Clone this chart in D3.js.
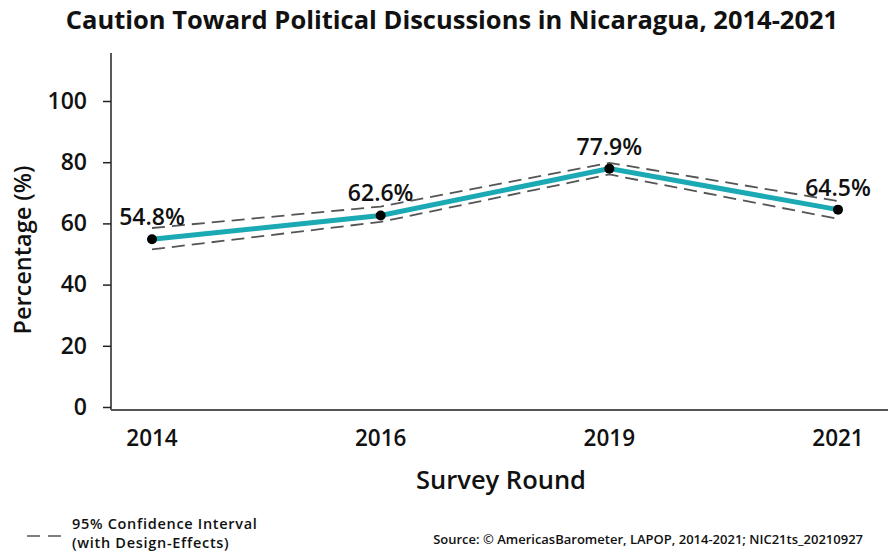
<!DOCTYPE html>
<html>
<head>
<meta charset="utf-8">
<script src="https://cdn.jsdelivr.net/npm/d3@7"></script>
<style>
  body { margin: 0; background: #fff; }
  svg { font-family: "Open Sans", "Noto Sans", sans-serif; }
</style>
</head>
<body>
<svg id="chart" width="888" height="556"></svg>
<script>
// survey rounds and estimates
const rounds = ['2014', '2016', '2019', '2021'];
const values = [54.8, 62.6, 77.9, 64.5];
const ciLower = [51.5, 60.5, 76.0, 61.5];
const ciUpper = [58.5, 65.5, 79.8, 67.3];
const yTicks = [0, 20, 40, 60, 80, 100];

const svg = d3.select('#chart');

const x = d3.scalePoint()
  .domain(rounds)
  .range([152, 838]);

const y = d3.scaleLinear()
  .domain([0, 100])
  .range([407, 101]);

// title
svg.append('text')
  .attr('x', 452)
  .attr('y', 29)
  .attr('text-anchor', 'middle')
  .attr('font-size', 25.5)
  .attr('font-weight', 700)
  .attr('fill', '#111')
  .text('Caution Toward Political Discussions in Nicaragua, 2014-2021');

// y axis
const yAxis = svg.append('g')
  .attr('transform', 'translate(111,0)')
  .call(d3.axisLeft(y).tickValues(yTicks).tickSize(8).tickPadding(16));
yAxis.select('.domain').remove();
yAxis.selectAll('.tick line').attr('stroke', '#222').attr('stroke-width', 1.5);
yAxis.selectAll('.tick text')
  .attr('font-size', 23)
  .attr('font-weight', 600)
  .attr('fill', '#111')
  .attr('font-family', '"Open Sans", sans-serif');

svg.append('line')
  .attr('x1', 111).attr('x2', 111)
  .attr('y1', 53).attr('y2', 410)
  .attr('stroke', '#222').attr('stroke-width', 1.5);

// x axis
svg.append('line')
  .attr('x1', 111).attr('x2', 888)
  .attr('y1', 410).attr('y2', 410)
  .attr('stroke', '#555').attr('stroke-width', 2);

svg.append('g')
  .selectAll('text')
  .data(rounds)
  .enter()
  .append('text')
  .attr('x', d => x(d))
  .attr('y', 446)
  .attr('text-anchor', 'middle')
  .attr('font-size', 22.5)
  .attr('font-weight', 600)
  .attr('fill', '#111')
  .text(d => d);

svg.append('text')
  .attr('x', 501)
  .attr('y', 489)
  .attr('text-anchor', 'middle')
  .attr('font-size', 25.5)
  .attr('font-weight', 600)
  .attr('fill', '#111')
  .text('Survey Round');

svg.append('text')
  .attr('transform', 'translate(31,250) rotate(-90)')
  .attr('text-anchor', 'middle')
  .attr('font-size', 23.5)
  .attr('font-weight', 600)
  .attr('fill', '#111')
  .text('Percentage (%)');

// confidence interval
const line = d3.line()
  .x((d, i) => x(rounds[i]))
  .y(d => y(d));

[ciUpper, ciLower].forEach(arr => {
  svg.append('path')
    .datum(arr)
    .attr('d', line)
    .attr('fill', 'none')
    .attr('stroke', '#555')
    .attr('stroke-width', 1.8)
    .attr('stroke-dasharray', '13,7');
});

// estimate line
svg.append('path')
  .datum(values)
  .attr('d', line)
  .attr('fill', 'none')
  .attr('stroke', '#1ba9b4')
  .attr('stroke-width', 5);

svg.append('g')
  .selectAll('circle')
  .data(values)
  .enter()
  .append('circle')
  .attr('cx', (d, i) => x(rounds[i]))
  .attr('cy', d => y(d))
  .attr('r', 5)
  .attr('fill', '#000');

svg.append('g')
  .selectAll('text')
  .data(values)
  .enter()
  .append('text')
  .attr('x', (d, i) => x(rounds[i]))
  .attr('y', d => y(d) - 14)
  .attr('text-anchor', 'middle')
  .attr('font-size', 23)
  .attr('font-weight', 600)
  .attr('fill', '#111')
  .text(d => d.toFixed(1) + '%');

// legend
svg.append('line')
  .attr('x1', 27).attr('x2', 62)
  .attr('y1', 536).attr('y2', 536)
  .attr('stroke', '#555')
  .attr('stroke-width', 1.5)
  .attr('stroke-dasharray', '13,8');

const legendText = svg.append('text')
  .attr('x', 72)
  .attr('font-size', 14.5)
  .attr('font-weight', 600)
  .attr('letter-spacing', 0.7)
  .attr('fill', '#111');

legendText.append('tspan')
  .attr('x', 72)
  .attr('y', 529)
  .text('95% Confidence Interval');

legendText.append('tspan')
  .attr('x', 72)
  .attr('y', 548)
  .text('(with Design-Effects)');

svg.append('text')
  .attr('x', 863)
  .attr('y', 544)
  .attr('text-anchor', 'end')
  .attr('font-size', 13)
  .attr('font-weight', 600)
  .attr('fill', '#111')
  .text('Source: © AmericasBarometer, LAPOP, 2014-2021; NIC21ts_20210927');
</script>
</body>
</html>
